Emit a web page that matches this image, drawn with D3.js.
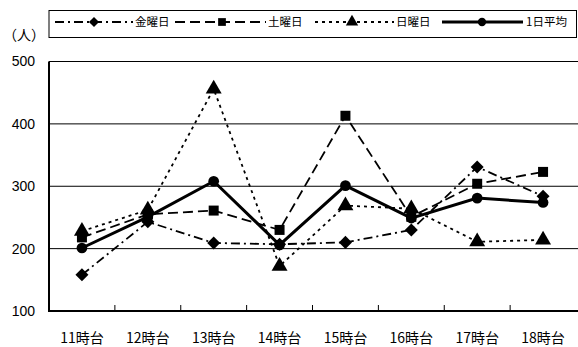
<!DOCTYPE html>
<html><head><meta charset="utf-8">
<script src="https://cdn.jsdelivr.net/npm/d3@7"></script>
<style>body{margin:0;background:#fff;} svg{display:block;}</style>
</head><body>
<svg id="c" width="578" height="347"></svg>
<script>
const categories = ["11時台","12時台","13時台","14時台","15時台","16時台","17時台","18時台"];
const friday   = [158, 243, 209, 207, 210, 230, 331, 284];
const saturday = [218, 255, 261, 230, 413, 251, 304, 323];
const sunday   = [228, 262, 456, 172, 269, 264, 211, 214];
const average  = [201, 251, 308, 206, 301, 249, 281, 274];
const yTicks = [100, 200, 300, 400, 500];
const seriesNames = ["金曜日","土曜日","日曜日","1日平均"];

const svg = d3.select("#c");
const L = 49, R = 576, T = 61.5, B = 311;
const x = d3.scaleBand().domain(categories).range([L, R]);
const y = d3.scaleLinear().domain([100, 500]).range([B, T]);
const cx = c => x(c) + x.bandwidth() / 2;
const jp = "'Noto Sans CJK JP', sans-serif";

// gridlines
svg.append("g").selectAll("line").data(yTicks.filter(v => v > 100)).join("line")
  .attr("x1", L).attr("x2", 578).attr("y1", d => y(d)).attr("y2", d => y(d))
  .attr("stroke", "#000").attr("stroke-width", 1);

// y axis labels
svg.append("g").selectAll("text").data(yTicks).join("text")
  .attr("x", 35).attr("y", d => y(d)).attr("dy", "0.35em")
  .attr("text-anchor", "end").attr("font-family", "'Liberation Sans', Arial, sans-serif")
  .attr("font-size", 14).text(d => d);

// x axis
const xAxis = d3.axisBottom(x).tickSizeInner(-6).tickSizeOuter(0).tickFormat("");
const gx = svg.append("g").attr("transform", `translate(0,${B})`).call(xAxis);
gx.select(".domain").remove();
gx.selectAll(".tick").attr("transform", d => `translate(${x(d)},0)`);
gx.selectAll(".tick line").attr("stroke", "#000").attr("stroke-width", 1);
gx.selectAll(".tick").filter((d, i) => i === 0).remove();
svg.append("line").attr("x1", L).attr("x2", 578).attr("y1", B).attr("y2", B)
  .attr("stroke", "#000").attr("stroke-width", 2);
svg.append("line").attr("x1", L).attr("x2", L).attr("y1", T).attr("y2", B + 1)
  .attr("stroke", "#000").attr("stroke-width", 2);

svg.append("g").selectAll("text").data(categories).join("text")
  .attr("x", d => cx(d)).attr("y", 338).attr("dy", "0.35em")
  .attr("text-anchor", "middle").attr("font-family", jp).attr("font-size", 14)
  .text(d => d);

// series
const styles = [
  {vals: friday,   dash: "9,4,2,4", w: 1.8, marker: "diamond"},
  {vals: saturday, dash: "10,5",    w: 1.8, marker: "square"},
  {vals: sunday,   dash: "3,4",     w: 1.8, marker: "triangle"},
  {vals: average,  dash: null,      w: 3,   marker: "circle"}
];
const symType = {diamond: d3.symbolSquare, square: d3.symbolSquare, triangle: d3.symbolTriangle, circle: d3.symbolCircle};
const symSize = {diamond: 85, square: 100, triangle: 110, circle: 90};
const symRot = {diamond: 45, square: 0, triangle: 0, circle: 0};
const line = d3.line().x((d, i) => cx(categories[i])).y(d => y(d));

styles.forEach(s => {
  svg.append("path").datum(s.vals).attr("d", line).attr("fill", "none")
    .attr("stroke", "#000").attr("stroke-width", s.w)
    .attr("stroke-dasharray", s.dash);
});
styles.forEach(s => {
  svg.append("g").selectAll("path").data(s.vals).join("path")
    .attr("transform", (d, i) => `translate(${cx(categories[i])},${y(d)}) rotate(${symRot[s.marker]})`)
    .attr("d", d3.symbol(symType[s.marker], symSize[s.marker]))
    .attr("fill", "#000");
});

// legend
svg.append("rect").attr("x", 49).attr("y", 10.5).attr("width", 527.5).attr("height", 27)
  .attr("fill", "#fff").attr("stroke", "#000").attr("stroke-width", 1);
const legendPos = [
  {x1: 55, x2: 133, mx: 94, tx: 135},
  {x1: 175, x2: 266, mx: 222, tx: 268},
  {x1: 315, x2: 394, mx: 352, tx: 396},
  {x1: 442, x2: 523, mx: 482, tx: 526}
];
const ly = 22;
styles.forEach((s, i) => {
  const p = legendPos[i];
  svg.append("line").attr("x1", p.x1).attr("x2", p.x2).attr("y1", ly).attr("y2", ly)
    .attr("stroke", "#000").attr("stroke-width", s.w).attr("stroke-dasharray", s.dash);
  svg.append("path").attr("transform", `translate(${p.mx},${ly}) rotate(${symRot[s.marker]})`)
    .attr("d", d3.symbol(symType[s.marker], symSize[s.marker] * 0.6)).attr("fill", "#000");
  svg.append("text").attr("x", p.tx).attr("y", ly).attr("dy", "0.35em")
    .attr("font-family", jp).attr("font-size", 11.5).text(seriesNames[i]);
});
svg.append("text").attr("x", 3).attr("y", 35).attr("dy", "0.35em")
  .attr("font-family", jp).attr("font-size", 14).text("（人）");
</script>
</body></html>
